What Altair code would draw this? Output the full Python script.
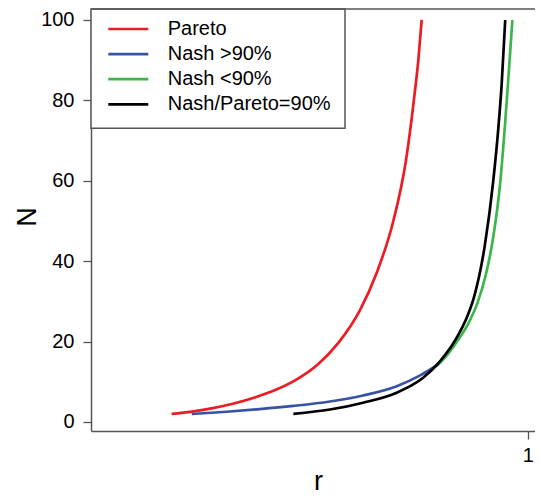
import altair as alt
import pandas as pd

# ---- data ----
series_labels = ["Pareto", "Nash >90%", "Nash <90%", "Nash/Pareto=90%"]
series_colors = ["#ed1c24", "#3953a4", "#3cb54a", "#000000"]

pareto_r = [0.152, 0.2, 0.25, 0.3, 0.35, 0.4, 0.45, 0.5, 0.55, 0.6, 0.64, 0.68, 0.71, 0.73, 0.74, 0.7475]
pareto_N = [2, 2.6, 3.45, 4.6, 6.1, 8.0, 10.6, 14.3, 19.8, 27.7, 37, 50, 65, 81, 90.5, 100]

nash_hi_r = [0.200, 0.283, 0.362, 0.442, 0.529, 0.608, 0.688, 0.744, 0.787]
nash_hi_N = [2, 2.55, 3.2, 4.0, 5.1, 6.6, 8.9, 11.6, 14.3]

nash_lo_r = [0.787, 0.81, 0.835, 0.86, 0.88, 0.90, 0.918, 0.935, 0.946, 0.955, 0.9635]
nash_lo_N = [14.3, 16.9, 20.5, 24.8, 29.5, 36.5, 46, 60, 74, 87, 100]

ratio_r = [0.442, 0.529, 0.608, 0.688, 0.751, 0.791, 0.831, 0.855, 0.872, 0.898, 0.918, 0.930, 0.938, 0.9465]
ratio_N = [2, 3.1, 4.8, 7.3, 11, 15.1, 21, 26, 31, 44, 60, 73, 84, 100]

y_ticks = [0, 20, 40, 60, 80, 100]
x_ticks = [1]

rows = []
for name, rs, ns in [
    (series_labels[0], pareto_r, pareto_N),
    (series_labels[1], nash_hi_r, nash_hi_N),
    (series_labels[2], nash_lo_r, nash_lo_N),
    (series_labels[3], ratio_r, ratio_N),
]:
    for r, n in zip(rs, ns):
        rows.append({"series": name, "r": r, "N": n})
df = pd.DataFrame(rows)
legend_df = pd.DataFrame({"series": series_labels, "row": list(range(len(series_labels)))})

FONT = "Liberation Sans"
W, H = 444, 422
color = alt.Color("series:N", scale=alt.Scale(domain=series_labels, range=series_colors), legend=None)

lines = alt.Chart(df).mark_line(strokeWidth=2.7, interpolate="monotone", strokeCap="butt").encode(
    x=alt.X("r:Q",
            scale=alt.Scale(domain=[-0.04, 1.0174], nice=False, zero=False),
            axis=alt.Axis(values=x_ticks, format="~g", title="r", grid=False,
                          titleX=227, titleY=58, titleAlign="center", titleBaseline="alphabetic",
                          labelPadding=6)),
    y=alt.Y("N:Q",
            scale=alt.Scale(domain=[-2.24, 102.73], nice=False, zero=False),
            axis=alt.Axis(values=y_ticks, title="N", grid=False,
                          titleX=-64, titleY=207.5, titleAlign="center", titleBaseline="middle",
                          titleAngle=-90, labelPadding=9)),
    color=color,
    order=alt.Order("r:Q"),
)

leg_box = alt.Chart(alt.Data(values=[{}])).mark_rect(
    fill="white", stroke="#555555", strokeWidth=1.5
).encode(x=alt.value(0), x2=alt.value(254), y=alt.value(0), y2=alt.value(119.3))

row_y = alt.Y("row:Q", scale=alt.Scale(domain=[0, 3], range=[20, 95.3]), axis=None)

leg_rules = alt.Chart(legend_df).mark_rule(strokeWidth=2.7).encode(
    x=alt.value(17.3), x2=alt.value(57.3), y=row_y, color=color)

leg_text = alt.Chart(legend_df).mark_text(
    align="left", baseline="middle", fontSize=20, font=FONT, color="black"
).encode(x=alt.value(76.7), y=row_y, text="series:N")

top_rule = alt.Chart(alt.Data(values=[{}])).mark_rule(color="#555555", strokeWidth=1.5).encode(
    x=alt.value(0), x2=alt.value(W), y=alt.value(0))

chart = alt.layer(lines, leg_box, leg_rules, leg_text, top_rule).resolve_scale(
    y="independent"
).properties(
    width=W, height=H,
    padding={"left": 83, "top": 1, "right": 0, "bottom": 66},
    autosize=alt.AutoSizeParams(type="none"),
).configure_view(stroke=None).configure_axis(
    labelFont=FONT, labelFontSize=20, labelColor="black",
    titleFont=FONT, titleFontSize=27, titleFontWeight="normal", titleColor="black",
    domainColor="#555555", domainWidth=1.5, tickColor="#555555", tickWidth=1.3, tickSize=8,
)

chart.save("out.html", embed_options={"renderer": "svg", "actions": False})
